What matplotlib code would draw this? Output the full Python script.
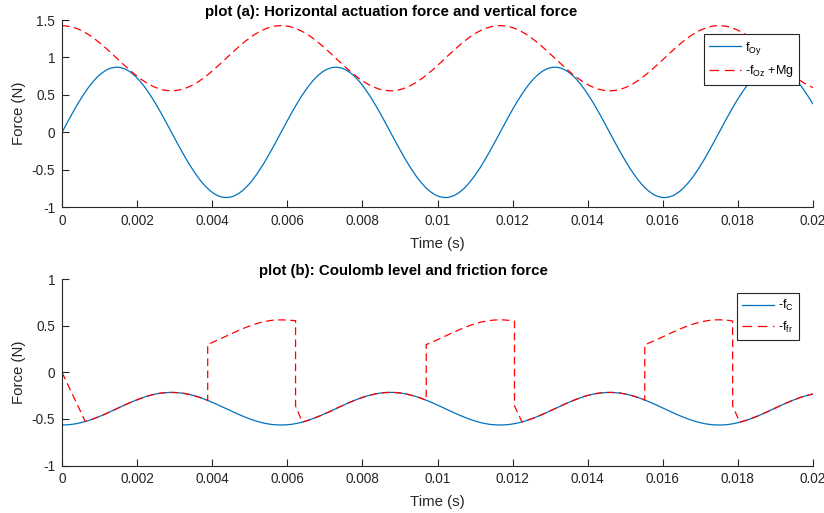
import numpy as np
import matplotlib
matplotlib.use('Agg')
import matplotlib.pyplot as plt
from matplotlib.path import Path
from matplotlib.patches import PathPatch
from matplotlib.lines import Line2D

plt.rcParams['font.family'] = ['Liberation Sans', 'DejaVu Sans']
plt.rcParams['mathtext.fontset'] = 'custom'
plt.rcParams['mathtext.rm'] = 'Liberation Sans'
plt.rcParams['mathtext.it'] = 'Liberation Sans'
plt.rcParams['mathtext.bf'] = 'Liberation Sans:bold'
plt.rcParams['mathtext.default'] = 'regular'
plt.rcParams['lines.scale_dashes'] = False

# ---- data ----
t = np.arange(81) * 0.00025  # time samples, s

f_Oy = [0, .231, .446, .629, .766, .848, .869, .827, .726, .572,
        .377, .155, -.078, -.306, -.511, -.680, -.800, -.862, -.862, -.800,
        -.680, -.511, -.306, -.078, .155, .377, .572, .726, .827, .869,
        .848, .766, .629, .446, .231, 0, -.231, -.446, -.629, -.766,
        -.848, -.869, -.827, -.726, -.572, -.377, -.155, .078, .306, .511,
        .680, .800, .862, .862, .800, .680, .511, .306, .078, -.155,
        -.377, -.572, -.726, -.827, -.869, -.848, -.766, -.629, -.446, -.231,
        0, .231, .446, .629, .766, .848, .869, .827, .726, .572, .377]

neg_fOz_Mg = [1.425, 1.409, 1.363, 1.291, 1.196, 1.087, .970, .856, .750, .662,
              .598, .562, .557, .583, .638, .719, .819, .932, 1.048, 1.161,
              1.261, 1.342, 1.397, 1.423, 1.418, 1.382, 1.318, 1.230, 1.124, 1.010,
              .893, .784, .689, .617, .571, .555, .571, .617, .689, .784,
              .893, 1.010, 1.124, 1.230, 1.318, 1.382, 1.418, 1.423, 1.397, 1.342,
              1.261, 1.161, 1.048, .932, .819, .719, .638, .583, .557, .562,
              .598, .662, .750, .856, .970, 1.087, 1.196, 1.291, 1.363, 1.409,
              1.425, 1.409, 1.363, 1.291, 1.196, 1.087, .970, .856, .750, .662, .598]

neg_fC = [-.565, -.559, -.540, -.511, -.473, -.429, -.382, -.336, -.294, -.258,
          -.232, -.218, -.216, -.226, -.248, -.281, -.321, -.367, -.413, -.459,
          -.499, -.532, -.554, -.564, -.562, -.548, -.522, -.486, -.444, -.398,
          -.351, -.307, -.269, -.240, -.221, -.215, -.221, -.240, -.269, -.307,
          -.351, -.398, -.444, -.486, -.522, -.548, -.562, -.564, -.554, -.532,
          -.499, -.459, -.413, -.367, -.321, -.281, -.248, -.226, -.216, -.218,
          -.232, -.258, -.294, -.336, -.382, -.429, -.473, -.511, -.540, -.559,
          -.565, -.559, -.540, -.511, -.473, -.429, -.382, -.336, -.294, -.258, -.232]

t_fr = [0, 0.00062, 0.00075, 0.001, 0.00125, 0.0015, 0.00175, 0.002, 0.00225, 0.0025,
        0.00275, 0.003, 0.00325, 0.0035, 0.00375, 0.00388, 0.00388, 0.004, 0.00425, 0.0045,
        0.00475, 0.005, 0.00525, 0.0055, 0.00575, 0.006, 0.00622, 0.00622, 0.0064, 0.0065,
        0.00675, 0.007, 0.00725, 0.0075, 0.00775, 0.008, 0.00825, 0.0085, 0.00875, 0.009,
        0.00925, 0.0095, 0.0097, 0.0097, 0.00975, 0.01, 0.01025, 0.0105, 0.01075, 0.011,
        0.01125, 0.0115, 0.01175, 0.012, 0.01205, 0.01205, 0.01225, 0.0125, 0.01275, 0.013,
        0.01325, 0.0135, 0.01375, 0.014, 0.01425, 0.0145, 0.01475, 0.015, 0.01525, 0.0155,
        0.01552, 0.01552, 0.01575, 0.016, 0.01625, 0.0165, 0.01675, 0.017, 0.01725, 0.0175,
        0.01775, 0.01786, 0.01786, 0.01805, 0.01825, 0.0185, 0.01875, 0.019, 0.01925, 0.0195,
        0.01975, 0.02]

neg_ffr = [0, -.527, -.511, -.473, -.429, -.382, -.336, -.294, -.258, -.232,
           -.218, -.216, -.226, -.248, -.281, -.300, .300, .321, .367, .413,
           .459, .499, .532, .554, .564, .562, .556, -.36, -.533, -.522,
           -.486, -.444, -.398, -.351, -.307, -.269, -.240, -.221, -.215, -.221,
           -.240, -.269, -.299, .299, .307, .351, .398, .444, .486, .522,
           .548, .562, .564, .554, .550, -.36, -.532, -.499, -.459, -.413,
           -.367, -.321, -.281, -.248, -.226, -.216, -.218, -.232, -.258, -.294,
           -.297, .297, .336, .382, .429, .473, .511, .540, .559, .565,
           .559, .552, -.36, -.535, -.511, -.473, -.429, -.382, -.336, -.294,
           -.258, -.232]

xticks = [0, 0.002, 0.004, 0.006, 0.008, 0.01, 0.012, 0.014, 0.016, 0.018, 0.02]
xtick_labels = ['0', '0.002', '0.004', '0.006', '0.008', '0.01', '0.012', '0.014',
                '0.016', '0.018', '0.02']
yticks_a = [-1, -0.5, 0, 0.5, 1, 1.5]
ytick_labels_a = ['-1', '-0.5', '0', '0.5', '1', '1.5']
yticks_b = [-1, -0.5, 0, 0.5, 1]
ytick_labels_b = ['-1', '-0.5', '0', '0.5', '1']

BLUE = '#0072BD'
RED = '#FF0000'
AX = '#262626'
W, H = 824, 513
DASH = (0, (5.5, 3.2))
LW = 0.9


def curve_path(x, y, step=0.00025):
    """Path through the data points; runs on the sampling grid are drawn as
    smooth (Catmull-Rom) curves, other segments as straight lines."""
    P = np.column_stack([np.asarray(x, float), np.asarray(y, float)])
    n = len(P)
    on_grid = [abs((P[i + 1, 0] - P[i, 0]) - step) < 1e-9 for i in range(n - 1)]
    verts = [P[0]]
    codes = [Path.MOVETO]
    for i in range(n - 1):
        if not on_grid[i]:
            verts.append(P[i + 1])
            codes.append(Path.LINETO)
            continue
        p0 = P[i - 1] if (i > 0 and on_grid[i - 1]) else P[i]
        p3 = P[i + 2] if (i + 2 < n and on_grid[i + 1]) else P[i + 1]
        c1 = P[i] + (P[i + 1] - p0) / 6.0
        c2 = P[i + 1] - (p3 - P[i]) / 6.0
        verts += [c1, c2, P[i + 1]]
        codes += [Path.CURVE4] * 3
    return Path(verts, codes)


def draw(ax, x, y, color, ls):
    ax.add_patch(PathPatch(curve_path(x, y), facecolor='none', edgecolor=color,
                           lw=LW, linestyle=ls, capstyle='butt'))


fig = plt.figure(figsize=(W / 100, H / 100), dpi=100)
ax1 = fig.add_axes([62 / W, 1 - 207.3 / H, 751 / W, 187.3 / H])
ax2 = fig.add_axes([62 / W, 1 - 465.5 / H, 751 / W, 186.2 / H])


def style(ax, ylim, yt, ytl):
    ax.set_xlim(0, 0.02)
    ax.set_ylim(*ylim)
    ax.set_xticks(xticks)
    ax.set_xticklabels(xtick_labels)
    ax.set_yticks(yt)
    ax.set_yticklabels(ytl)
    for s in ['top', 'right']:
        ax.spines[s].set_visible(False)
    for s in ['left', 'bottom']:
        ax.spines[s].set_color(AX)
        ax.spines[s].set_linewidth(0.8)
    ax.tick_params(direction='in', length=5, width=0.8, colors=AX,
                   labelsize=9.8, pad=5)
    ax.set_xlabel('Time (s)', fontsize=10.8, color=AX, labelpad=6)
    ax.set_ylabel('Force (N)', fontsize=10.8, color=AX, labelpad=4)


def legend(ax, labels, top_px, bottom_px, height_px):
    handles = [Line2D([], [], color=BLUE, lw=LW),
               Line2D([], [], color=RED, lw=LW, linestyle=(0, (7, 4)))]
    leg = ax.legend(handles, labels, loc='upper right',
                    bbox_to_anchor=((799.3 - 62) / 751, (bottom_px - top_px) / height_px),
                    borderaxespad=0, fontsize=9, handlelength=2.5, handletextpad=0.35,
                    fancybox=False, framealpha=1, edgecolor=AX, borderpad=0.45,
                    labelspacing=0.5)
    leg.get_frame().set_linewidth(0.8)


draw(ax1, t, f_Oy, BLUE, '-')
draw(ax1, t, neg_fOz_Mg, RED, DASH)
style(ax1, (-1, 1.5), yticks_a, ytick_labels_a)
ax1.set_title('plot (a): Horizontal actuation force and vertical force',
              fontsize=10.8, fontweight='bold', x=0.438, pad=3)
legend(ax1, ['$f_{Oy}$', '-$f_{Oz}$ +Mg'], 34, 207.3, 187.3)

draw(ax2, t, neg_fC, BLUE, '-')
draw(ax2, t_fr, neg_ffr, RED, DASH)
style(ax2, (-1, 1), yticks_b, ytick_labels_b)
ax2.set_title('plot (b): Coulomb level and friction force',
              fontsize=10.8, fontweight='bold', x=0.454, pad=3)
legend(ax2, ['-$f_{C}$', '-$f_{fr}$'], 292.7, 465.5, 186.2)

fig.savefig('out.png', dpi=100)
